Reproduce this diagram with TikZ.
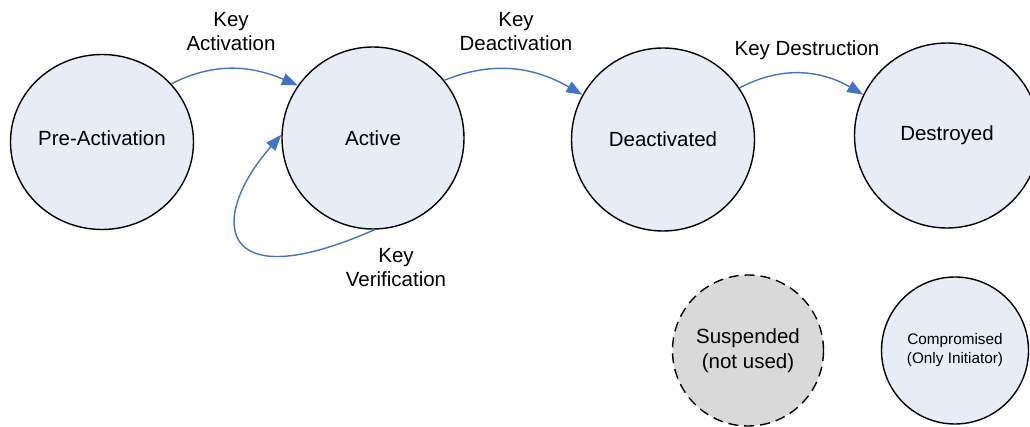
\documentclass[tikz,border=0pt]{standalone}
\usepackage{fontspec}
\setmainfont{Liberation Sans}
\usetikzlibrary{arrows.meta,shapes.geometric}
\definecolor{statefill}{RGB}{231,236,247}
\definecolor{suspfill}{RGB}{217,217,217}
\definecolor{flow}{RGB}{68,114,196}
\begin{document}
\begin{tikzpicture}[x=1pt,y=-1pt,
  state/.style={ellipse, draw=black, line width=1.4pt, fill=statefill,
    inner sep=0pt, align=center, font=\fontsize{20.5}{25}\selectfont},
  trans/.style={draw=flow, line width=1.4pt,
    -{Triangle[length=16pt,width=12pt]}},
  lbl/.style={font=\fontsize{20.5}{24}\selectfont, align=center, inner sep=0pt}]
\useasboundingbox (0,0) rectangle (1030,427);

% key states
\node[state, minimum width=183pt, minimum height=175pt, text depth=8pt] (pre) at (102,142) {Pre-Activation};
\node[state, minimum size=182pt] (act) at (373,138) {Active};
\node[state, minimum size=183pt] (deact) at (663,139.5) {Deactivated};
\node[state, minimum size=185pt] (destr) at (947,135.5) {Destroyed};
\node[state, fill=suspfill, dash pattern=on 10pt off 6pt, minimum size=151pt] (susp) at (748,350.5) {Suspended\\(not used)};
\node[state, minimum size=147pt, font=\fontsize{15.3}{19}\selectfont] (comp) at (955,350.5) {Compromised\\(Only Initiator)};

% transitions
\draw[trans] (pre.40) to[out=27,in=157] (act.145);
\draw[trans] (act.39) to[out=22,in=150] (deact.151);
\draw[trans] (deact.34) to[out=28,in=150] (destr.154);
\draw[trans] (act.-89) .. controls (215,300) and (208,218) .. (act.178);

% transition labels
\node[lbl] (lact) at (231,32) {Key\\Activation};
\node[lbl] (ldeact) at (516,32) {Key\\Deactivation};
\node[lbl] (ldestr) at (807,50) {Key Destruction};
\node[lbl] (lver) at (396,268) {Key\\Verification};
\end{tikzpicture}
\end{document}
